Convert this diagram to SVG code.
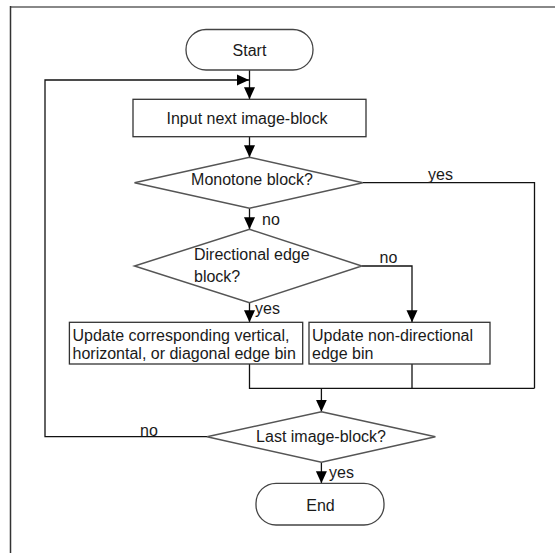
<svg xmlns="http://www.w3.org/2000/svg" width="555" height="553" viewBox="0 0 555 553">
<style>
text{font-family:"Liberation Sans",Arial,sans-serif;font-size:16px;fill:#1a1a1a}
.c{text-anchor:middle}
.term{fill:#fff;stroke:#444;stroke-width:1.3}
.box{fill:#fff;stroke:#333;stroke-width:1.3}
.dia{fill:#fff;stroke:#555;stroke-width:1.5}
.ln{fill:none;stroke:#111;stroke-width:1.3}
.ar{fill:none;stroke:#111;stroke-width:1.3;marker-end:url(#ah)}
</style>
<defs>
<marker id="ah" markerUnits="userSpaceOnUse" markerWidth="12" markerHeight="12" viewBox="0 0 12 12" refX="12" refY="6" orient="auto">
<path d="M0,0.5 L12,6 L0,11.5 z" fill="#000"/>
</marker>
</defs>
<rect width="555" height="553" fill="#fff"/>
<g id="frame">
<line x1="10" y1="7" x2="555" y2="7" stroke="#888" stroke-width="2"/>
<line x1="10.5" y1="6" x2="10.5" y2="553" stroke="#333" stroke-width="1.5"/>
</g>
<g id="connectors">
<path class="ar" d="M249.5,70 V99.3"/>
<path class="ar" d="M207,436.7 H45 V80 H249"/>
<path class="ar" d="M249.5,136.7 V157.3"/>
<path class="ar" d="M249.5,208.3 V229.3"/>
<path class="ln" d="M362.8,182.7 H534.5 V388.3"/>
<path class="ar" d="M361.8,266 H412 V322.3"/>
<path class="ar" d="M249.5,302.7 V322.3"/>
<path class="ln" d="M249.5,364 V388.3 H534.5"/>
<path class="ln" d="M412,364 V388.3"/>
<path class="ar" d="M321.4,388.3 V411.7"/>
<path class="ar" d="M321.4,462.3 V483.3"/>
<text x="428" y="180">yes</text>
<text x="262" y="225">no</text>
<text x="379.5" y="262.5">no</text>
<text x="255" y="314">yes</text>
<text x="140" y="436">no</text>
<text x="329" y="477.5">yes</text>
</g>
<g id="start">
<rect class="term" x="186" y="29.5" width="127" height="40.5" rx="20" ry="20"/>
<text class="c" x="249.5" y="55.5">Start</text>
</g>
<g id="input">
<rect class="box" x="133" y="99.3" width="233" height="37.4"/>
<text class="c" x="247" y="123.7">Input next image-block</text>
</g>
<g id="monotone">
<polygon class="dia" points="249.5,157.3 362.8,182.7 249.5,208.3 134.5,182.7"/>
<text class="c" x="252" y="185">Monotone block?</text>
</g>
<g id="directional">
<polygon class="dia" points="249.5,229.3 361.8,266 249.5,302.7 134.5,266"/>
<text x="194" y="259.7">Directional edge</text>
<text x="194" y="282.4">block?</text>
</g>
<g id="update-directional">
<rect class="box" x="69.4" y="322.3" width="233.3" height="41.7"/>
<text x="72.5" y="340.7">Update corresponding vertical,</text>
<text x="72.5" y="359">horizontal, or diagonal edge bin</text>
</g>
<g id="update-nondirectional">
<rect class="box" x="309" y="322.3" width="181" height="41.7"/>
<text x="312" y="340.7">Update non-directional</text>
<text x="312" y="359">edge bin</text>
</g>
<g id="last">
<polygon class="dia" points="321.4,411.7 435.4,436.7 321.4,462.3 207,436.7"/>
<text class="c" x="321" y="442">Last image-block?</text>
</g>
<g id="end">
<rect class="term" x="256" y="483.3" width="128" height="41.7" rx="20" ry="20"/>
<text class="c" x="320.5" y="510.7">End</text>
</g>
</svg>
